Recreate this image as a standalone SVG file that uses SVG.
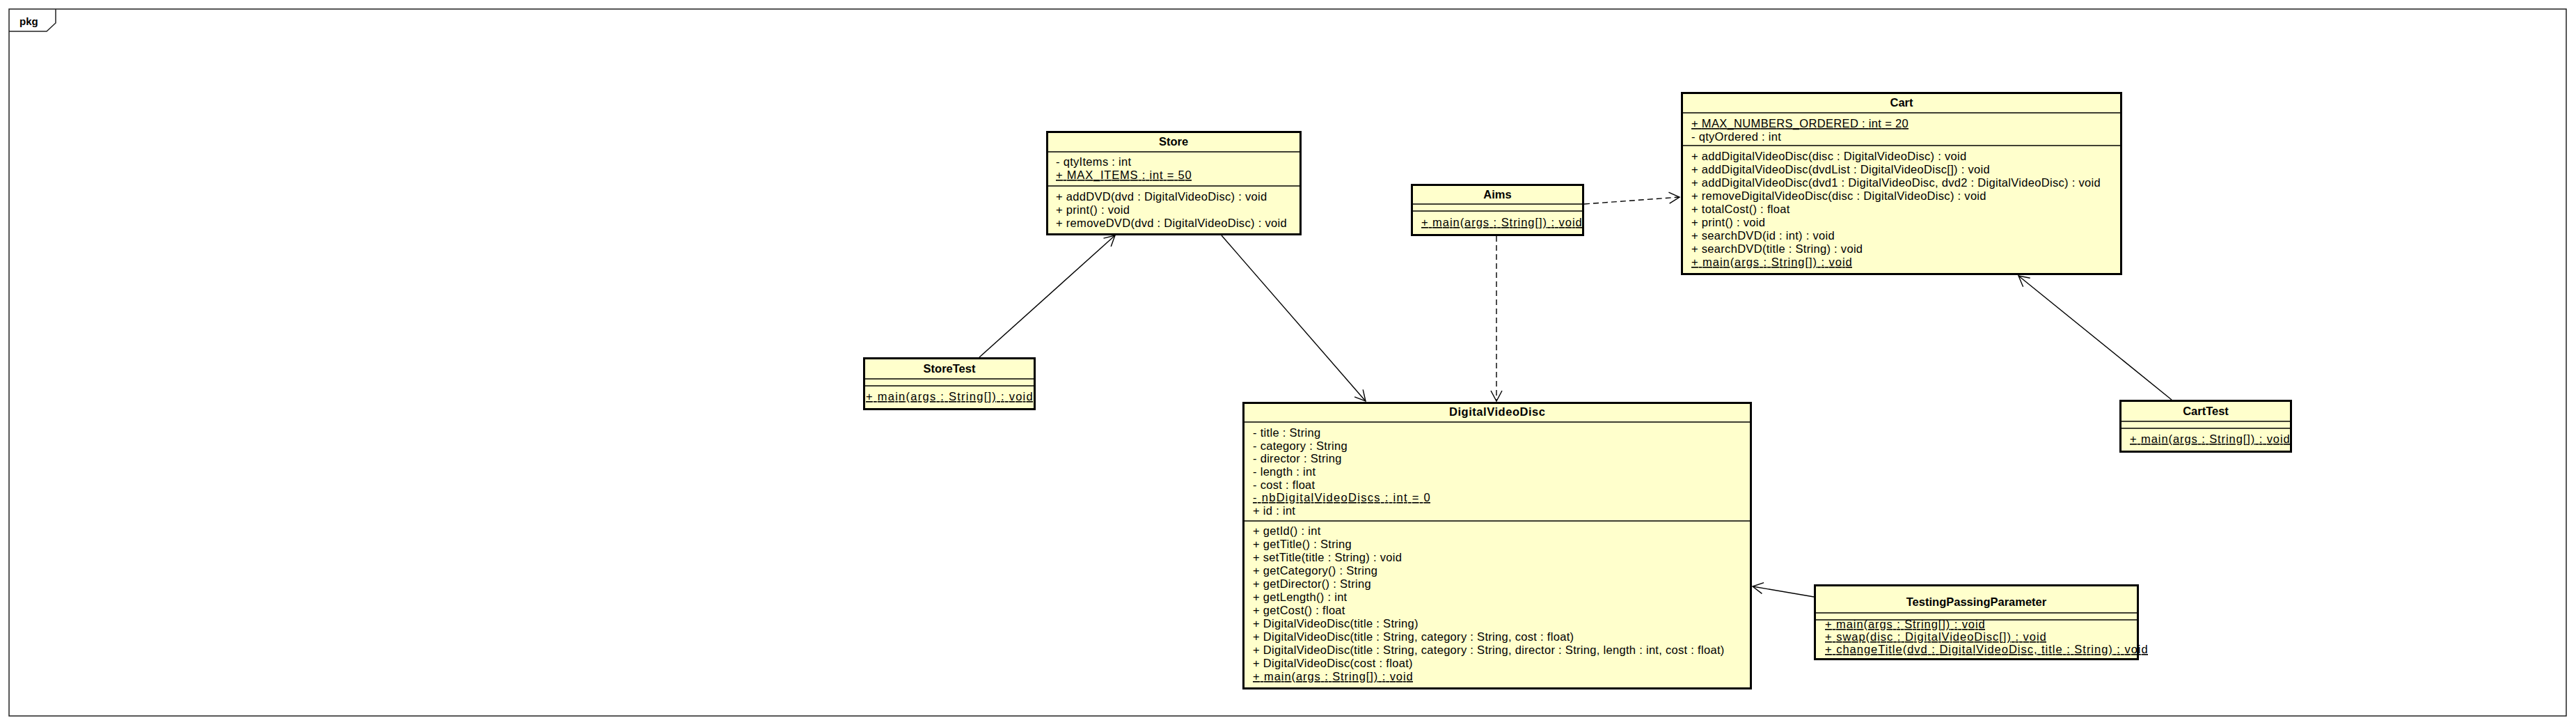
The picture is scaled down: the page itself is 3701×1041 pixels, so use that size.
<svg xmlns="http://www.w3.org/2000/svg" width="3701" height="1041" viewBox="0 0 3701 1041">
<style>
.t{font-family:"Liberation Sans",Arial,sans-serif;font-size:16.5px;letter-spacing:0.3px;fill:#000}
.h{font-weight:bold;text-anchor:middle;letter-spacing:0}
.u{text-decoration:underline}
.bg{fill:#FFFFCC;stroke:none}
.bd{fill:none;stroke:#000;stroke-width:3}
.sep{stroke:#000;stroke-width:1.5}
.ln{fill:none;stroke:#000;stroke-width:1.4}
.dash{stroke-dasharray:8,5}
</style>
<defs>
<marker id="arr" markerUnits="userSpaceOnUse" markerWidth="20" markerHeight="20" viewBox="-17 -10 20 20" refX="0" refY="0" orient="auto">
<path d="M-15,-8 L0,0 L-15,8" fill="none" stroke="#000" stroke-width="1.4"/>
</marker>
</defs>
<rect width="3701" height="1041" fill="#fff"/>
<g id="pkg">
<rect x="13" y="13" width="3674" height="1015" fill="none" stroke="#222" stroke-width="1.5"/>
<path d="M13,45 L67,45 L80,33 L80,13" fill="none" stroke="#222" stroke-width="1.5"/>
<text x="28" y="36" class="t" style="font-weight:bold;font-size:15px;letter-spacing:0">pkg</text>
</g>
<g id="connectors">
<line class="ln" x1="1407" y1="513" x2="1602" y2="338" marker-end="url(#arr)"/>
<line class="ln" x1="1755" y1="338" x2="1962" y2="576" marker-end="url(#arr)"/>
<line class="ln dash" x1="2150" y1="339" x2="2150" y2="576" marker-end="url(#arr)"/>
<line class="ln dash" x1="2276" y1="293" x2="2413" y2="283" marker-end="url(#arr)"/>
<line class="ln" x1="3120" y1="574" x2="2900" y2="396" marker-end="url(#arr)"/>
<line class="ln" x1="2606" y1="857" x2="2518" y2="842" marker-end="url(#arr)"/>
</g>
<g id="Store">
<rect class="bg" x="1504.5" y="189.5" width="364" height="147"/>
<line class="sep" x1="1505" y1="218" x2="1868" y2="218"/>
<line class="sep" x1="1505" y1="267" x2="1868" y2="267"/>
<text class="t h" x="1686" y="209">Store</text>
<text class="t" x="1517" y="238">- qtyItems : int</text>
<text class="t u" x="1517" y="257" textLength="195">+ MAX_ITEMS : int = 50</text>
<text class="t" x="1517" y="288">+ addDVD(dvd : DigitalVideoDisc) : void</text>
<text class="t" x="1517" y="307">+ print() : void</text>
<text class="t" x="1517" y="326">+ removeDVD(dvd : DigitalVideoDisc) : void</text>
<rect class="bd" x="1504.5" y="189.5" width="364" height="147"/>
</g>
<g id="Aims">
<rect class="bg" x="2028.5" y="265.5" width="246" height="72"/>
<line class="sep" x1="2029" y1="293" x2="2274" y2="293"/>
<line class="sep" x1="2029" y1="303" x2="2274" y2="303"/>
<text class="t h" x="2151.5" y="285">Aims</text>
<text class="t u" x="2042" y="325" textLength="231">+ main(args : String[]) : void</text>
<rect class="bd" x="2028.5" y="265.5" width="246" height="72"/>
</g>
<g id="Cart">
<rect class="bg" x="2416.5" y="133.5" width="631" height="260"/>
<line class="sep" x1="2417" y1="162" x2="3047" y2="162"/>
<line class="sep" x1="2417" y1="209" x2="3047" y2="209"/>
<text class="t h" x="2732" y="153">Cart</text>
<text class="t u" x="2430" y="183" textLength="312">+ MAX_NUMBERS_ORDERED : int = 20</text>
<text class="t" x="2430" y="202">- qtyOrdered : int</text>
<text class="t" x="2430" y="230">+ addDigitalVideoDisc(disc : DigitalVideoDisc) : void</text>
<text class="t" x="2430" y="249">+ addDigitalVideoDisc(dvdList : DigitalVideoDisc[]) : void</text>
<text class="t" x="2430" y="268">+ addDigitalVideoDisc(dvd1 : DigitalVideoDisc, dvd2 : DigitalVideoDisc) : void</text>
<text class="t" x="2430" y="287">+ removeDigitalVideoDisc(disc : DigitalVideoDisc) : void</text>
<text class="t" x="2430" y="306">+ totalCost() : float</text>
<text class="t" x="2430" y="325">+ print() : void</text>
<text class="t" x="2430" y="344">+ searchDVD(id : int) : void</text>
<text class="t" x="2430" y="363">+ searchDVD(title : String) : void</text>
<text class="t u" x="2430" y="382" textLength="231">+ main(args : String[]) : void</text>
<rect class="bd" x="2416.5" y="133.5" width="631" height="260"/>
</g>
<g id="StoreTest">
<rect class="bg" x="1241.5" y="514.5" width="245" height="73"/>
<line class="sep" x1="1242" y1="544" x2="1486" y2="544"/>
<line class="sep" x1="1242" y1="554" x2="1486" y2="554"/>
<text class="t h" x="1364" y="535">StoreTest</text>
<text class="t u" x="1244" y="575" textLength="240">+ main(args : String[]) : void</text>
<rect class="bd" x="1241.5" y="514.5" width="245" height="73"/>
</g>
<g id="CartTest">
<rect class="bg" x="3046.5" y="575.5" width="245" height="73"/>
<line class="sep" x1="3047" y1="605" x2="3291" y2="605"/>
<line class="sep" x1="3047" y1="615" x2="3291" y2="615"/>
<text class="t h" x="3169" y="596">CartTest</text>
<text class="t u" x="3060" y="636" textLength="230">+ main(args : String[]) : void</text>
<rect class="bd" x="3046.5" y="575.5" width="245" height="73"/>
</g>
<g id="TestingPassingParameter">
<rect class="bg" x="2607.5" y="840.5" width="464" height="106"/>
<line class="sep" x1="2608" y1="880" x2="3071" y2="880"/>
<line class="sep" x1="2608" y1="890" x2="3071" y2="890"/>
<text class="t h" x="2839.5" y="870">TestingPassingParameter</text>
<text class="t u" x="2622" y="902" textLength="230">+ main(args : String[]) : void</text>
<text class="t u" x="2622" y="920" textLength="318">+ swap(disc : DigitalVideoDisc[]) : void</text>
<text class="t u" x="2622" y="938" textLength="464">+ changeTitle(dvd : DigitalVideoDisc, title : String) : void</text>
<rect class="bd" x="2607.5" y="840.5" width="464" height="106"/>
</g>
<g id="DigitalVideoDisc">
<rect class="bg" x="1786.5" y="578.5" width="729" height="410"/>
<line class="sep" x1="1787" y1="606" x2="2515" y2="606"/>
<line class="sep" x1="1787" y1="748" x2="2515" y2="748"/>
<text class="t h" x="2151" y="597" textLength="138">DigitalVideoDisc</text>
<text class="t" x="1800" y="627">- title : String</text>
<text class="t" x="1800" y="646">- category : String</text>
<text class="t" x="1800" y="664">- director : String</text>
<text class="t" x="1800" y="683">- length : int</text>
<text class="t" x="1800" y="702">- cost : float</text>
<text class="t u" x="1800" y="720" textLength="255">- nbDigitalVideoDiscs : int = 0</text>
<text class="t" x="1800" y="739">+ id : int</text>
<text class="t" x="1800" y="768">+ getId() : int</text>
<text class="t" x="1800" y="787">+ getTitle() : String</text>
<text class="t" x="1800" y="806">+ setTitle(title : String) : void</text>
<text class="t" x="1800" y="825">+ getCategory() : String</text>
<text class="t" x="1800" y="844">+ getDirector() : String</text>
<text class="t" x="1800" y="863">+ getLength() : int</text>
<text class="t" x="1800" y="882">+ getCost() : float</text>
<text class="t" x="1800" y="901">+ DigitalVideoDisc(title : String)</text>
<text class="t" x="1800" y="920">+ DigitalVideoDisc(title : String, category : String, cost : float)</text>
<text class="t" x="1800" y="939">+ DigitalVideoDisc(title : String, category : String, director : String, length : int, cost : float)</text>
<text class="t" x="1800" y="958">+ DigitalVideoDisc(cost : float)</text>
<text class="t u" x="1800" y="977" textLength="230">+ main(args : String[]) : void</text>
<rect class="bd" x="1786.5" y="578.5" width="729" height="410"/>
</g>
</svg>
